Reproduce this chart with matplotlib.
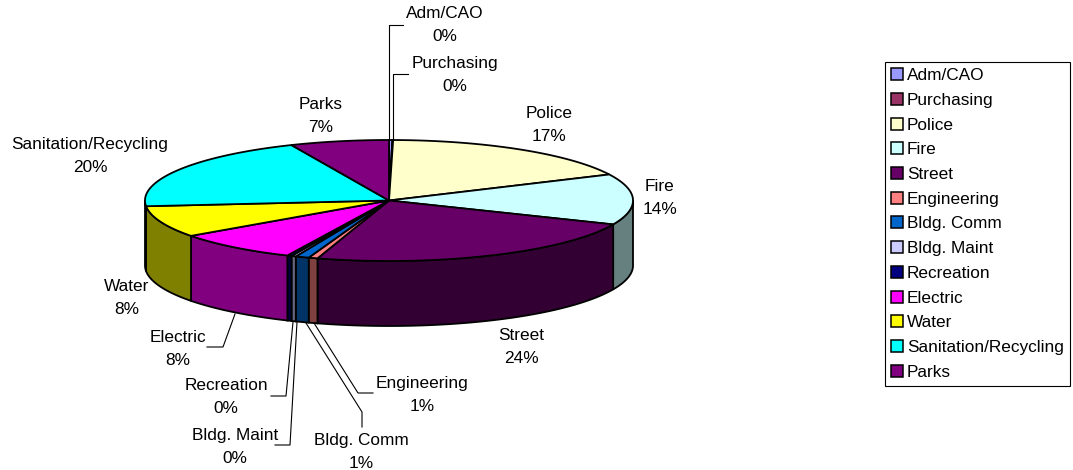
#!/usr/bin/env python

"""Department shares as a tilted 3D pie, drawn from polygons."""

import numpy as np
import matplotlib
matplotlib.use("Agg")
import matplotlib.pyplot as plt
from matplotlib.patches import Patch, Polygon

plt.rcParams['font.family'] = ['Liberation Sans', 'DejaVu Sans']

departments = ['Adm/CAO', 'Purchasing', 'Police', 'Fire', 'Street', 'Engineering',
               'Bldg. Comm', 'Bldg. Maint', 'Recreation', 'Electric', 'Water',
               'Sanitation/Recycling', 'Parks']
shares = [0.22, 0.05, 17.6, 13.5, 23.2, 0.6, 0.9, 0.3, 0.3, 8.2, 8.4, 19.9, 6.53]
shown_pct = [0, 0, 17, 14, 24, 1, 1, 0, 0, 8, 8, 20, 7]
colors = ['#9999FF', '#993366', '#FFFFCC', '#CCFFFF', '#660066', '#FF8080', '#0066CC',
          '#CCCCFF', '#000080', '#FF00FF', '#FFFF00', '#00FFFF', '#800080']

# pie geometry in pixels
cx, cy = 389, 200.5
rx, ry = 244, 60.5
depth = 65


def rim(t):
    return np.column_stack([cx + rx * np.sin(t), cy - ry * np.cos(t)])


def darker(c):
    return tuple(v * 0.5 for v in matplotlib.colors.to_rgb(c))


fig = plt.figure(figsize=(10.73, 4.70), dpi=100)
ax = fig.add_axes([0, 0, 1, 1])
ax.set_xlim(0, 1073)
ax.set_ylim(470, 0)
ax.axis('off')

edges = np.cumsum([0] + shares) / sum(shares) * 2 * np.pi

# side walls, only the front half shows
for i, c in enumerate(colors):
    a, b = max(edges[i], np.pi / 2), min(edges[i + 1], 3 * np.pi / 2)
    if b <= a:
        continue
    t = np.linspace(a, b, 80)
    top = rim(t)
    low = top[::-1] + [0, depth]
    ax.add_patch(Polygon(np.vstack([top, low]), closed=True, facecolor=darker(c),
                         edgecolor='black', lw=1.3, zorder=2))

# top face
for i, c in enumerate(colors):
    t = np.linspace(edges[i], edges[i + 1], 100)
    pts = np.vstack([[cx, cy], rim(t)])
    ax.add_patch(Polygon(pts, closed=True, facecolor=c, edgecolor='black', lw=1.3, zorder=3))

# leader lines
leaders = {
    'Adm/CAO': [(389, 140), (389, 25), (403, 25)],
    'Purchasing': [(393, 140), (393, 74), (408, 74)],
    'Engineering': [(314, 323), (358, 393), (373, 393)],
    'Bldg. Comm': [(306, 323), (362, 412), (362, 427)],
    'Bldg. Maint': [(297, 322), (290, 445), (275, 445)],
    'Recreation': [(293, 322), (286, 396), (271, 396)],
    'Electric': [(235, 314), (223, 347), (207, 347)],
}
for pts in leaders.values():
    xs, ys = zip(*pts)
    ax.plot(xs, ys, color='black', lw=0.8, zorder=4)

# label centres
label_pos = {
    'Adm/CAO': (445, 25), 'Purchasing': (455, 75), 'Police': (549, 125), 'Fire': (660, 198),
    'Street': (521, 347), 'Engineering': (422, 395), 'Bldg. Comm': (361, 452),
    'Bldg. Maint': (235, 447), 'Recreation': (226, 397), 'Electric': (178, 349),
    'Water': (127, 298), 'Sanitation/Recycling': (90, 156), 'Parks': (321, 116),
}
for name, pct in zip(departments, shown_pct):
    x, y = label_pos[name]
    ax.text(x, y, f"{name}\n{pct}%", ha='center', va='center', fontsize=12.4,
            color='black', linespacing=1.6, zorder=5)

handles = [Patch(facecolor=c, edgecolor='black', lw=1.1) for c in colors]
leg = ax.legend(handles, departments, loc='upper left', bbox_to_anchor=(885 / 1073, 1 - 62 / 470),
                borderaxespad=0, frameon=True, fancybox=False, framealpha=1, edgecolor='black',
                fontsize=12.4, handlelength=0.7, handleheight=0.7, handletextpad=0.22,
                labelspacing=0.56, borderpad=0.36)
leg.get_frame().set_linewidth(0.8)

plt.savefig('out.png', dpi=100)
